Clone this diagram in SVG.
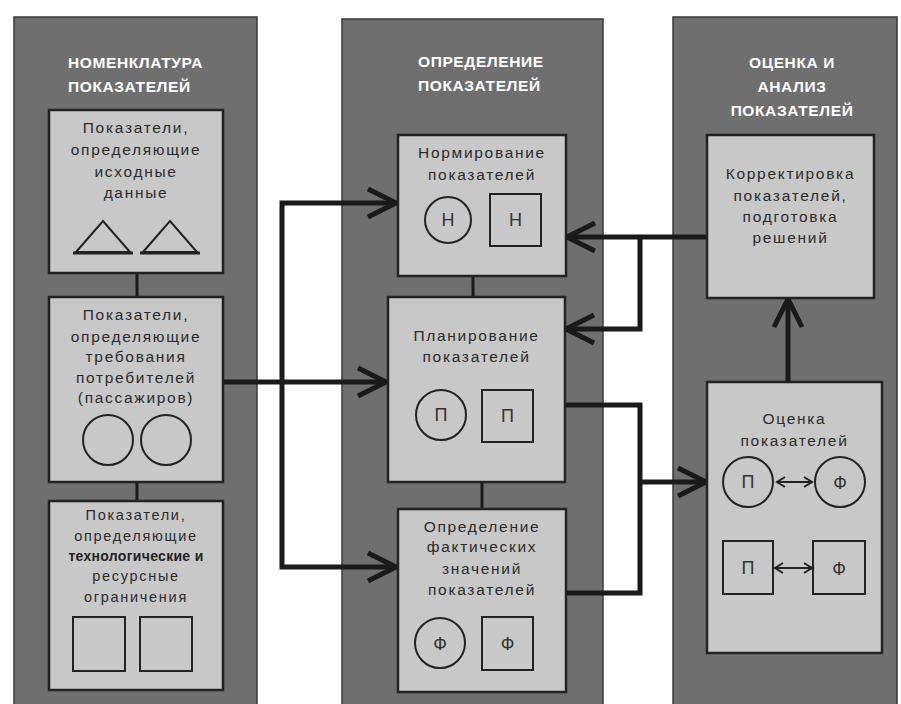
<svg xmlns="http://www.w3.org/2000/svg" width="901" height="704" viewBox="0 0 901 704">
<style>
.panel{fill:#6f6f6f;stroke:#3a3a3a;stroke-width:1.5}
.box{fill:#c8c8c8;stroke:#222;stroke-width:2.5}
.hdr{font-family:"Liberation Sans",Arial,sans-serif;font-weight:bold;font-size:15.5px;fill:#fff;letter-spacing:0.6px}
.t{font-family:"Liberation Sans",Arial,sans-serif;font-size:15.5px;fill:#2b2b2b;text-anchor:middle;letter-spacing:1.7px}
.ts{font-family:"Liberation Sans",Arial,sans-serif;font-size:14.5px;fill:#2b2b2b;text-anchor:middle;letter-spacing:1.7px}
.tb{font-family:"Liberation Sans",Arial,sans-serif;font-size:14px;font-weight:bold;fill:#222;text-anchor:middle;letter-spacing:0.3px}
.sym{fill:none;stroke:#222;stroke-width:2}
.sl{font-family:"Liberation Sans",Arial,sans-serif;font-size:18px;fill:#333;text-anchor:middle}
.conn{fill:none;stroke:#1a1a1a;stroke-width:5;stroke-linejoin:miter}
.thin{fill:none;stroke:#1a1a1a;stroke-width:3}
.dbl{fill:none;stroke:#222;stroke-width:2}
</style>
<defs>
<marker id="chev" markerUnits="userSpaceOnUse" markerWidth="40" markerHeight="40" viewBox="0 0 40 40" refX="32" refY="20" orient="auto">
<path d="M4,6 L32,20 L4,34" fill="none" stroke="#1a1a1a" stroke-width="5"/>
</marker>
<marker id="sm" markerUnits="userSpaceOnUse" markerWidth="14" markerHeight="14" viewBox="0 0 14 14" refX="11" refY="7" orient="auto-start-reverse">
<path d="M3,2 L11,7 L3,12" fill="none" stroke="#222" stroke-width="2"/>
</marker>
</defs>

<rect x="0" y="0" width="901" height="704" fill="#fff"/>

<g id="panel-nomenclature">
<rect class="panel" x="14" y="17" width="243" height="700"/>
<text class="hdr" x="68" y="68">НОМЕНКЛАТУРА</text>
<text class="hdr" x="68" y="92">ПОКАЗАТЕЛЕЙ</text>
</g>
<g id="panel-definition">
<rect class="panel" x="342" y="19" width="261" height="700"/>
<text class="hdr" x="418" y="67">ОПРЕДЕЛЕНИЕ</text>
<text class="hdr" x="418" y="91">ПОКАЗАТЕЛЕЙ</text>
</g>
<g id="panel-analysis">
<rect class="panel" x="673" y="17" width="224" height="700"/>
<text class="hdr" x="792" y="68" text-anchor="middle">ОЦЕНКА И</text>
<text class="hdr" x="792" y="92" text-anchor="middle">АНАЛИЗ</text>
<text class="hdr" x="792" y="116" text-anchor="middle">ПОКАЗАТЕЛЕЙ</text>
</g>

<g id="connectors">
<path class="thin" d="M137,273 V297"/>
<path class="thin" d="M137,482 V501"/>
<path class="thin" d="M473,276 V297"/>
<path class="thin" d="M482,482 V509"/>
<path class="conn" d="M223,382 H386" marker-end="url(#chev)"/>
<path class="conn" d="M282,382 V203 H396" marker-end="url(#chev)"/>
<path class="conn" d="M282,382 V567 H396" marker-end="url(#chev)"/>
<path class="conn" d="M707,237 H567" marker-end="url(#chev)"/>
<path class="conn" d="M640,237 V329 H566" marker-end="url(#chev)"/>
<path class="conn" d="M565,405 H640 V593 H566"/>
<path class="conn" d="M640,482 H706" marker-end="url(#chev)"/>
<path class="conn" d="M788,382 V299" marker-end="url(#chev)"/>
</g>

<g id="node-initial-data">
<rect class="box" x="49" y="110" width="174" height="163"/>
<text class="t" x="136" y="133">Показатели,</text>
<text class="t" x="136" y="155">определяющие</text>
<text class="t" x="136" y="177">исходные</text>
<text class="t" x="136" y="198">данные</text>
<polygon class="sym" points="76,252 103,221 130,252"/>
<polygon class="sym" points="143,252 170,221 197,252"/>
<path d="M73,253 H133 M140,253 H200" stroke="#222" stroke-width="3"/>
</g>

<g id="node-consumer">
<rect class="box" x="49" y="297" width="174" height="185"/>
<text class="t" x="136" y="320">Показатели,</text>
<text class="t" x="136" y="342">определяющие</text>
<text class="t" x="136" y="362">требования</text>
<text class="t" x="136" y="383">потребителей</text>
<text class="t" x="136" y="403">(пассажиров)</text>
<circle class="sym" cx="108" cy="440" r="25"/>
<circle class="sym" cx="166" cy="440" r="25"/>
</g>

<g id="node-constraints">
<rect class="box" x="49" y="501" width="174" height="189"/>
<text class="ts" x="136" y="520">Показатели,</text>
<text class="ts" x="136" y="541">определяющие</text>
<text class="tb" x="136" y="561">технологические и</text>
<text class="ts" x="136" y="581">ресурсные</text>
<text class="ts" x="136" y="602">ограничения</text>
<rect class="sym" x="73" y="617" width="52" height="54"/>
<rect class="sym" x="140" y="617" width="52" height="54"/>
</g>

<g id="node-norming">
<rect class="box" x="398" y="135" width="168" height="141"/>
<text class="t" x="482" y="158">Нормирование</text>
<text class="t" x="482" y="180">показателей</text>
<circle class="sym" cx="448" cy="220" r="23"/>
<text class="sl" x="448" y="226">Н</text>
<rect class="sym" x="490" y="194" width="51" height="52"/>
<text class="sl" x="515.5" y="226">Н</text>
</g>

<g id="node-planning">
<rect class="box" x="388" y="297" width="177" height="185"/>
<text class="t" x="476.5" y="341">Планирование</text>
<text class="t" x="476.5" y="362">показателей</text>
<circle class="sym" cx="441" cy="415" r="25"/>
<text class="sl" x="441" y="421">П</text>
<rect class="sym" x="482" y="390" width="51" height="52"/>
<text class="sl" x="507.5" y="422">П</text>
</g>

<g id="node-actual">
<rect class="box" x="398" y="509" width="168" height="183"/>
<text class="t" x="482" y="532">Определение</text>
<text class="t" x="482" y="552">фактических</text>
<text class="t" x="482" y="574">значений</text>
<text class="t" x="482" y="595">показателей</text>
<circle class="sym" cx="440" cy="643" r="25"/>
<text class="sl" x="440" y="650">Ф</text>
<rect class="sym" x="482" y="617" width="51" height="53"/>
<text class="sl" x="507.5" y="650">Ф</text>
</g>

<g id="node-correction">
<rect class="box" x="707" y="135" width="167" height="163"/>
<text class="t" x="790.5" y="179">Корректировка</text>
<text class="t" x="790.5" y="201">показателей,</text>
<text class="t" x="790.5" y="222">подготовка</text>
<text class="t" x="790.5" y="243">решений</text>
</g>

<g id="node-evaluation">
<rect class="box" x="707" y="382" width="175" height="271"/>
<text class="t" x="794.5" y="424">Оценка</text>
<text class="t" x="794.5" y="446">показателей</text>
<circle class="sym" cx="748" cy="482" r="25"/>
<text class="sl" x="748" y="488">П</text>
<circle class="sym" cx="840" cy="482" r="25"/>
<text class="sl" x="840" y="489">Ф</text>
<path class="dbl" d="M777,482 H812" marker-start="url(#sm)" marker-end="url(#sm)"/>
<rect class="sym" x="723" y="541" width="50" height="53"/>
<text class="sl" x="748" y="574">П</text>
<rect class="sym" x="813" y="541" width="52" height="53"/>
<text class="sl" x="839" y="575">Ф</text>
<path class="dbl" d="M775,568 H812" marker-start="url(#sm)" marker-end="url(#sm)"/>
</g>
</svg>
